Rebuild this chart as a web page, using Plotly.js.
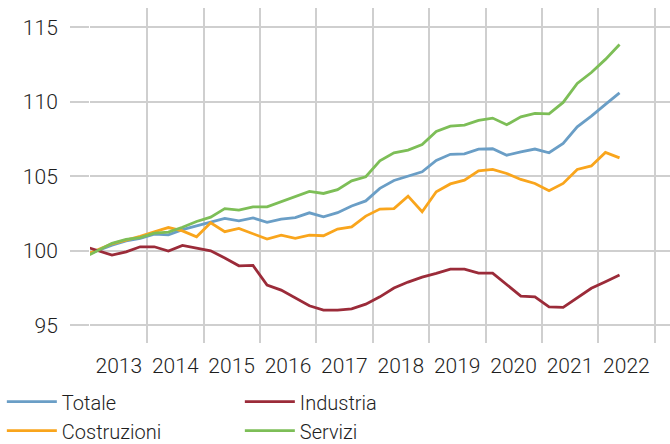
<!DOCTYPE html>
<html>
<head>
<meta charset="utf-8">
<script src="https://cdn.plot.ly/plotly-3.0.1.min.js"></script>
<style>html,body{margin:0;padding:0;background:#fff;}#chart{width:670px;height:444px;}</style>
</head>
<body>
<div id="chart"></div>
<script>
// Quarterly periods (index, 2013T1 = 100)
const quarters = ['2012T4',
  '2013T1','2013T2','2013T3','2013T4','2014T1','2014T2','2014T3','2014T4',
  '2015T1','2015T2','2015T3','2015T4','2016T1','2016T2','2016T3','2016T4',
  '2017T1','2017T2','2017T3','2017T4','2018T1','2018T2','2018T3','2018T4',
  '2019T1','2019T2','2019T3','2019T4','2020T1','2020T2','2020T3','2020T4',
  '2021T1','2021T2','2021T3','2021T4','2022T1','2022T2'];

const totale = [99.67, 100.03, 100.38, 100.67, 100.83, 101.12, 101.07, 101.42, 101.69,
  101.93, 102.17, 102.01, 102.21, 101.91, 102.13, 102.23, 102.55, 102.28, 102.56, 103.01,
  103.35, 104.19, 104.72, 105.01, 105.30, 106.07, 106.48, 106.51, 106.83, 106.85, 106.42,
  106.64, 106.83, 106.58, 107.21, 108.32, 109.04, 109.83, 110.60];

const industria = [100.31, 100.01, 99.71, 99.93, 100.27, 100.27, 99.98, 100.36, 100.20,
  100.00, 99.52, 98.99, 99.02, 97.70, 97.36, 96.81, 96.31, 96.02, 96.02, 96.10,
  96.42, 96.91, 97.50, 97.90, 98.23, 98.48, 98.77, 98.77, 98.50, 98.50, 97.70,
  96.96, 96.91, 96.24, 96.20, 96.85, 97.48, 97.92, 98.37];

const costruzioni = [99.68, 100.08, 100.47, 100.72, 100.97, 101.28, 101.56, 101.34, 100.94,
  101.88, 101.28, 101.50, 101.17, 100.79, 101.05, 100.83, 101.05, 101.01, 101.46, 101.61,
  102.33, 102.80, 102.83, 103.67, 102.62, 103.96, 104.49, 104.74, 105.37, 105.46, 105.19,
  104.79, 104.52, 104.03, 104.52, 105.46, 105.70, 106.60, 106.24];

const servizi = [99.54, 100.02, 100.50, 100.77, 100.89, 101.19, 101.26, 101.58, 101.97,
  102.26, 102.83, 102.73, 102.95, 102.95, 103.29, 103.62, 103.99, 103.85, 104.11, 104.70,
  104.97, 106.04, 106.58, 106.76, 107.13, 108.01, 108.37, 108.44, 108.75, 108.91, 108.46,
  108.99, 109.22, 109.19, 109.96, 111.23, 111.97, 112.85, 113.85];

const yearTicks = [2013, 2014, 2015, 2016, 2017, 2018, 2019, 2020, 2021, 2022, 2023];
const yearLabels = ['2013', '2014', '2015', '2016', '2017', '2018', '2019', '2020', '2021', '2022', ''];
const yTicks = [95, 100, 105, 110, 115];

const seriesNames = ['Totale', 'Industria', 'Costruzioni', 'Servizi'];
const seriesColors = ['#6a9ec6', '#9b2b39', '#f9a51c', '#7dbe57'];

// place each quarter at its mid-point on a numeric time axis
const xPos = quarters.map(q => {
  const y = parseInt(q.slice(0, 4), 10);
  const n = parseInt(q.slice(5), 10);
  return y + (n - 0.5) / 4;
});

const font = {family: 'Roboto, "Liberation Sans", sans-serif', size: 21, color: '#1e1e1e', weight: 300};
const legendFont = {family: 'Roboto, "Liberation Sans", sans-serif', size: 20, color: '#1e1e1e', weight: 300};
const gridCol = '#cfcfcf';

function mk(name, vals, color, rank) {
  return {
    type: 'scatter', mode: 'lines', name: name, x: xPos, y: vals,
    line: {color: color, width: 2.8}, legendrank: rank, hoverinfo: 'skip'
  };
}

const data = [
  mk(seriesNames[0], totale, seriesColors[0], 1),
  mk(seriesNames[2], costruzioni, seriesColors[2], 3),
  mk(seriesNames[1], industria, seriesColors[1], 2),
  mk(seriesNames[3], servizi, seriesColors[3], 4)
];

const layout = {
  width: 670, height: 444,
  margin: {l: 90, r: 0, t: 8, b: 101, autoexpand: false},
  paper_bgcolor: '#ffffff', plot_bgcolor: '#ffffff',
  font: font,
  showlegend: true,
  xaxis: {
    type: 'linear', range: [2012.985, 2023.27], automargin: false,
    tickmode: 'array', tickvals: yearTicks, ticktext: yearLabels,
    showgrid: true, gridcolor: gridCol, gridwidth: 2,
    zeroline: false, showline: false, ticks: '',
    ticklabelshift: 28, ticklabelstandoff: 8,
    tickfont: font, fixedrange: true
  },
  yaxis: {
    range: [93.81, 116.30], automargin: false,
    tickmode: 'array', tickvals: yTicks,
    showgrid: true, gridcolor: gridCol, gridwidth: 2,
    zeroline: false, showline: false,
    ticks: 'outside', ticklen: 19, tickwidth: 2, tickcolor: gridCol,
    ticklabelstandoff: 8,
    tickfont: font, fixedrange: true
  },
  legend: {
    orientation: 'h', x: -0.152, xanchor: 'left', y: -0.117, yanchor: 'top',
    entrywidth: 173, entrywidthmode: 'pixels', itemwidth: 50,
    font: legendFont, bgcolor: 'rgba(0,0,0,0)', traceorder: 'normal'
  }
};

Plotly.newPlot('chart', data, layout, {staticPlot: true, displayModeBar: false});
</script>
</body>
</html>
